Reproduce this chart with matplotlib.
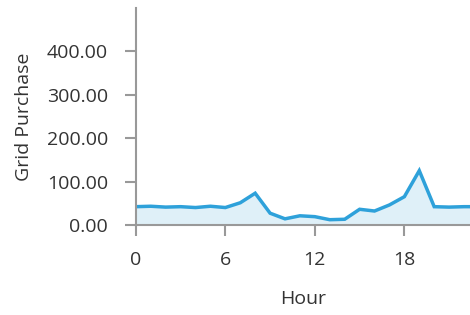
import matplotlib
matplotlib.use('Agg')
import matplotlib.pyplot as plt

# hourly grid purchase values
hours = list(range(24))
grid_purchase = [42, 43, 41, 42, 40, 43, 40, 51, 73, 27, 14, 21, 19, 12, 13, 36,
                 32, 46, 65, 125, 42, 41, 42, 42]
x_ticks = [0, 6, 12, 18]
y_ticks = [0, 100, 200, 300, 400]

plt.rcParams['font.family'] = ['Open Sans', 'DejaVu Sans']

fig = plt.figure(figsize=(4.7, 3.15), dpi=100)
ax = fig.add_axes([0.289, 0.286, 0.711, 0.689])

ax.fill_between(hours, grid_purchase, 0, color='#dff0f8', linewidth=0)
ax.plot(hours, grid_purchase, color='#2ea1da', linewidth=2.5, solid_joinstyle='miter')

ax.set_xlim(0, 22.4)
ax.set_ylim(0, 500)
ax.set_xticks(x_ticks)
ax.set_yticks(y_ticks)
ax.set_yticklabels(['%.2f' % v for v in y_ticks])

for s in ['top', 'right']:
    ax.spines[s].set_visible(False)
for s in ['left', 'bottom']:
    ax.spines[s].set_color('#999999')
    ax.spines[s].set_linewidth(1.5)
ax.tick_params(axis='both', colors='#999999', width=1.5, length=8, labelsize=14,
               labelcolor='#333333')
ax.tick_params(axis='x', pad=11)
ax.tick_params(axis='y', pad=12)

ax.set_xlabel('Hour', fontsize=14, color='#333333', labelpad=15)
ax.set_ylabel('Grid Purchase', fontsize=14, color='#333333', labelpad=10)

fig.savefig('out.png', dpi=100)
